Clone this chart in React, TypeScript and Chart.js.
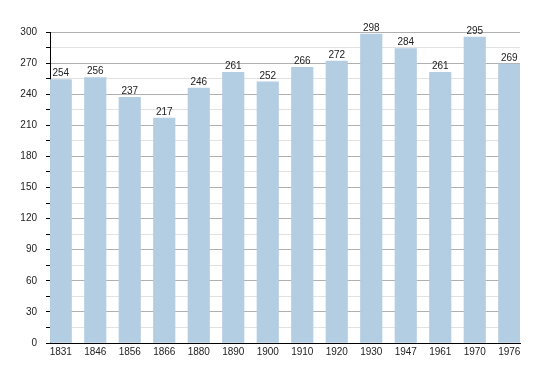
import React, { useEffect, useRef } from "react";
import { Chart, registerables } from "chart.js";

Chart.register(...registerables);

const years = ["1831", "1846", "1856", "1866", "1880", "1890", "1900", "1910", "1920", "1930", "1947", "1961", "1970", "1976"];
const population = [254, 256, 237, 217, 246, 261, 252, 266, 272, 298, 284, 261, 295, 269];
const yMax = 300;
const yMajorStep = 30;
const yMinorStep = 15;

const FONT = "'Liberation Sans', Arial, sans-serif";

const valueLabels = {
  id: "valueLabels",
  afterDatasetsDraw(chart: any) {
    const ctx = chart.ctx;
    const meta = chart.getDatasetMeta(0);
    ctx.save();
    ctx.font = `10px ${FONT}`;
    ctx.fillStyle = "#222";
    ctx.textAlign = "center";
    ctx.textBaseline = "bottom";
    meta.data.forEach((bar: any, i: number) => {
      ctx.fillText(String(population[i]), bar.x, bar.y - 1);
    });
    ctx.restore();
  },
};

export default function App() {
  const ref = useRef<HTMLCanvasElement>(null);
  useEffect(() => {
    document.body.style.margin = "0";
    const chart = new Chart(ref.current!, {
      type: "bar",
      data: {
        datasets: [
          {
            data: population.map((v, i) => ({ x: i, y: v })),
            backgroundColor: "#b3cde3",
            borderWidth: 0,
            barThickness: 21.5,
          },
        ],
      },
      options: {
        animation: false,
        responsive: false,
        maintainAspectRatio: false,
        layout: { padding: { top: 32, right: 30, left: 0, bottom: 0 } },
        plugins: { legend: { display: false }, tooltip: { enabled: false } },
        scales: {
          x: {
            type: "linear",
            offset: false,
            min: -0.3116,
            max: 13.3116,
            grid: { display: false, drawTicks: false },
            border: { display: true, color: "#000", width: 1 },
            afterBuildTicks: (scale: any) => {
              scale.ticks = years.map((_, i) => ({ value: i }));
            },
            afterFit: (scale: any) => {
              scale.height = 30;
            },
            ticks: {
              autoSkip: false,
              maxRotation: 0,
              padding: 3,
              color: "#222",
              font: { family: FONT, size: 10 },
              callback: (value: any) => years[value as number] ?? "",
            },
          },
          y: {
            min: 0,
            max: yMax,
            afterFit: (scale: any) => {
              scale.width = 50;
            },
            border: { display: true, color: "#000", width: 1 },
            grid: {
              color: (c: any) => (c.tick.value % yMajorStep === 0 ? "#b0b0b0" : "#e2e2e2"),
              tickColor: "#000",
              tickLength: 4,
              lineWidth: 1,
            },
            ticks: {
              stepSize: yMinorStep,
              padding: 9,
              color: "#222",
              font: { family: FONT, size: 10 },
              callback: (value: any) => ((value as number) % yMajorStep === 0 ? String(value) : ""),
            },
          },
        },
      },
      plugins: [valueLabels],
    });
    return () => chart.destroy();
  }, []);
  return (
    <div style={{ width: 550, height: 373 }}>
      <canvas ref={ref} width={550} height={373} style={{ display: "block" }} />
    </div>
  );
}
